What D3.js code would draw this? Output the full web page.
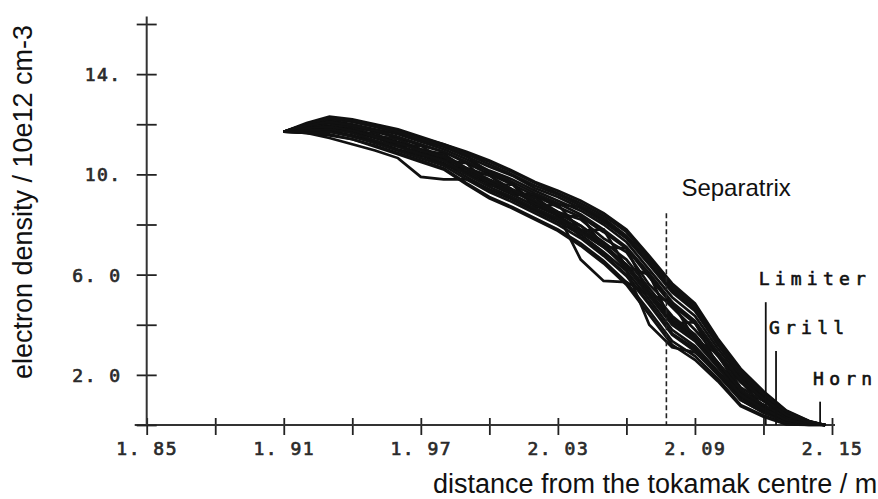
<!DOCTYPE html>
<html>
<head>
<meta charset="utf-8">
<script src="https://cdn.jsdelivr.net/npm/d3@7"></script>
<style>
  html, body { margin: 0; padding: 0; background: #fff; }
  svg { display: block; }
  .tick-label { font-family: "DejaVu Sans Mono", monospace; font-size: 18px; fill: #2a2a2a; stroke: #2a2a2a; stroke-width: 0.7px; letter-spacing: 1.5px; }
  .marker-label { font-family: "DejaVu Sans Mono", monospace; font-size: 18px; fill: #111; stroke: #111; stroke-width: 0.6px; letter-spacing: 5.2px; }
  .title { font-family: "Liberation Sans", Arial, sans-serif; fill: #111; }
</style>
</head>
<body>
<svg id="chart" width="878" height="499"></svg>
<script>
// radial positions (m) shared by every profile
const radius = [1.91, 1.92, 1.93, 1.94, 1.95, 1.96, 1.97, 1.98, 1.99, 2.00, 2.01, 2.02, 2.03,
  2.04, 2.05, 2.06, 2.07, 2.08, 2.09, 2.10, 2.11, 2.12, 2.13, 2.14, 2.147];

// electron density profiles (10e12 cm-3), one per measurement
const profiles = [
  [11.7, 12.05, 12.3, 12.2, 12.0, 11.8, 11.5, 11.2, 10.9, 10.55, 10.15, 9.7, 9.35, 8.95, 8.45, 7.8, 6.75, 5.65, 4.85, 3.45, 2.25, 1.35, 0.58, 0.16, 0],
  [11.7, 11.65, 11.55, 11.4, 11.1, 10.8, 10.5, 10.2, 9.6, 9.05, 8.65, 8.2, 7.75, 7.15, 6.45, 5.6, 4.4, 3.2, 2.6, 1.75, 0.75, 0.33, 0.02, 0, 0],
  [11.7, 11.9, 11.85, 11.9, 11.45, 11.45, 10.85, 10.85, 10.05, 10.0, 9.2, 9.15, 8.3, 8.35, 7.1, 7.05, 5.2, 4.9, 3.4, 2.85, 1.3, 1.0, 0.2, 0.1, 0],
  [11.7, 11.95, 12.15, 12.0, 11.8, 11.6, 11.3, 11.0, 10.6, 10.15, 9.8, 9.35, 8.95, 8.55, 8.0, 7.3, 6.2, 5.1, 4.35, 3.05, 1.9, 1.1, 0.45, 0.12, 0],
  [11.7, 11.75, 11.75, 11.55, 11.3, 11.0, 10.75, 10.45, 9.9, 9.4, 9.0, 8.55, 8.1, 7.6, 6.9, 6.15, 5.0, 3.8, 3.15, 2.15, 1.1, 0.6, 0.15, 0.04, 0],
  [11.7, 11.65, 11.45, 11.2, 10.95, 10.65, 9.9, 9.8, 9.8, 9.4, 9.05, 8.6, 8.2, 7.7, 7.1, 6.4, 5.3, 4.2, 3.5, 2.4, 1.35, 0.7, 0.25, 0.05, 0],
  [11.7, 11.85, 11.95, 11.8, 11.55, 11.3, 11.0, 10.7, 10.2, 9.75, 9.35, 8.9, 8.4, 6.6, 5.75, 5.7, 5.2, 4.3, 3.6, 2.5, 1.4, 0.8, 0.25, 0.05, 0],
  [11.7, 11.9, 12.05, 11.9, 11.7, 11.45, 11.15, 10.9, 10.45, 10.0, 9.6, 9.15, 8.7, 8.3, 7.7, 7.05, 5.9, 4.8, 4.05, 2.8, 1.7, 1.0, 0.38, 0.1, 0],
  [11.7, 11.8, 11.85, 11.7, 11.45, 11.15, 10.85, 10.6, 10.05, 9.6, 9.2, 8.75, 8.35, 7.8, 7.2, 6.4, 5.3, 4.1, 3.45, 2.4, 1.3, 0.7, 0.22, 0.05, 0],
  [11.7, 12.0, 12.25, 12.15, 11.95, 11.75, 11.45, 11.2, 10.85, 10.5, 10.1, 9.65, 9.25, 8.85, 8.35, 7.7, 6.65, 5.55, 4.75, 3.35, 2.2, 1.3, 0.55, 0.15, 0],
  [11.7, 11.65, 11.6, 11.4, 11.15, 10.85, 10.55, 10.25, 9.65, 9.1, 8.7, 8.25, 7.8, 7.25, 6.55, 5.7, 4.55, 3.35, 2.75, 1.85, 0.8, 0.38, 0.05, 0, 0],
  [11.7, 12.0, 12.25, 12.1, 11.9, 11.7, 11.4, 11.1, 10.75, 10.05, 9.65, 8.8, 8.4, 7.5, 6.8, 6.0, 4.85, 3.65, 3.05, 2.05, 1.0, 0.5, 0.12, 0.03, 0],
  [11.7, 11.7, 11.7, 11.55, 11.25, 10.95, 10.65, 10.4, 10.1, 9.65, 9.25, 9.2, 8.8, 8.7, 8.2, 7.5, 6.5, 5.35, 4.6, 3.25, 2.05, 1.25, 0.5, 0.14, 0],
  [11.7, 11.8, 12.05, 11.65, 11.65, 11.15, 11.15, 10.55, 10.45, 9.55, 9.6, 8.7, 8.8, 7.75, 7.8, 6.3, 6.0, 4.05, 4.1, 2.35, 1.75, 0.7, 0.4, 0.06, 0],
  [11.7, 12.0, 12.2, 12.1, 11.9, 11.65, 11.35, 11.1, 10.7, 10.3, 9.95, 9.45, 9.1, 8.65, 8.1, 7.45, 6.4, 5.3, 4.55, 3.2, 2.0, 1.2, 0.5, 0.13, 0],
  [11.7, 11.7, 11.7, 11.5, 11.25, 10.95, 10.65, 10.35, 9.8, 9.3, 8.9, 8.45, 8.0, 7.45, 6.75, 5.95, 4.8, 3.6, 2.95, 2.0, 1.0, 0.5, 0.1, 0.03, 0],
  [11.7, 11.9, 11.95, 11.9, 11.55, 11.4, 11.0, 10.8, 10.25, 9.95, 9.4, 9.05, 8.5, 8.2, 7.45, 6.9, 5.6, 4.7, 3.8, 2.75, 1.5, 0.95, 0.3, 0.08, 0],
  [11.7, 11.85, 11.9, 11.75, 11.5, 11.25, 10.95, 10.65, 10.2, 9.7, 9.35, 8.85, 8.45, 7.95, 7.3, 6.6, 5.45, 4.35, 3.6, 2.5, 1.4, 0.8, 0.27, 0.07, 0],
  [11.7, 11.85, 11.9, 11.75, 11.5, 11.25, 10.95, 10.7, 10.25, 9.8, 9.4, 8.95, 8.5, 7.95, 7.2, 6.2, 4.0, 3.1, 2.9, 2.1, 1.2, 0.6, 0.2, 0.05, 0],
  [11.7, 12.0, 12.25, 12.15, 11.95, 11.7, 11.4, 11.15, 10.8, 10.4, 10.0, 9.55, 9.2, 8.75, 8.25, 7.55, 6.55, 5.45, 4.65, 3.3, 2.1, 1.25, 0.52, 0.14, 0],
  [11.7, 11.75, 11.8, 11.65, 11.35, 11.1, 10.8, 10.55, 10.0, 9.5, 9.1, 8.65, 8.25, 7.7, 7.1, 6.3, 5.15, 4.0, 3.35, 2.3, 1.2, 0.65, 0.2, 0.05, 0],
  [11.7, 11.95, 12.1, 11.95, 11.75, 11.5, 11.2, 10.9, 10.5, 10.1, 9.7, 9.25, 8.85, 8.4, 7.8, 7.1, 6.05, 4.9, 4.15, 2.9, 1.8, 1.05, 0.4, 0.1, 0]
];

const xTicks = [1.85, 1.88, 1.91, 1.94, 1.97, 2.00, 2.03, 2.06, 2.09, 2.12, 2.15];
const xTickLabels = ["1. 85", "", "1. 91", "", "1. 97", "", "2. 03", "", "2. 09", "", "2. 15"];
const yTicks = [0, 2, 4, 6, 8, 10, 12, 14, 16];
const yTickLabels = ["", "2. 0", "", "6. 0", "", "10.", "", "14.", ""];

const separatrix = { r: 2.0775, top: 8.45, name: "Separatrix" };
const markerNames = ["Limiter", "Grill", "Horn"];
const markerRadius = [2.121, 2.1255, 2.1448];
const markerHeight = [4.9, 2.95, 0.93];

const svg = d3.select("#chart");
const x = d3.scaleLinear().domain([1.85, 2.15]).range([146.7, 832]);
const y = d3.scaleLinear().domain([0, 16]).range([425, 24]);

// x axis
const xAxis = svg.append("g")
  .attr("transform", `translate(0,${y(0)})`)
  .call(d3.axisBottom(x).tickValues(xTicks).tickSize(0).tickPadding(0)
    .tickFormat((d, i) => xTickLabels[i]));
xAxis.select(".domain").remove();
xAxis.append("line")
  .attr("x1", x(1.85) - 12).attr("x2", x(2.15) + 3)
  .attr("stroke", "#333").attr("stroke-width", 2);
xAxis.selectAll(".tick line").attr("y1", -7).attr("y2", 10)
  .attr("stroke", "#222").attr("stroke-width", 1.8);
xAxis.selectAll(".tick text").attr("class", "tick-label")
  .attr("y", 30).attr("dy", null).attr("font-size", null).attr("font-family", null);

// y axis
const yAxis = svg.append("g")
  .attr("transform", `translate(${x(1.85)},0)`)
  .call(d3.axisLeft(y).tickValues(yTicks).tickSize(0).tickPadding(0)
    .tickFormat((d, i) => yTickLabels[i]));
yAxis.select(".domain").remove();
yAxis.append("line")
  .attr("y1", y(16.3)).attr("y2", y(0))
  .attr("stroke", "#333").attr("stroke-width", 2);
yAxis.selectAll(".tick line").attr("x1", -10).attr("x2", 10)
  .attr("stroke", "#222").attr("stroke-width", 1.8);
yAxis.selectAll(".tick text").attr("class", "tick-label")
  .attr("x", -25).attr("dy", "0.36em").attr("font-size", null).attr("font-family", null);
svg.selectAll(".tick text").attr("fill", null);

// profiles
const line = d3.line()
  .x((d, i) => x(radius[i]))
  .y((d) => y(d));

svg.append("g")
  .selectAll("path")
  .data(profiles)
  .join("path")
  .attr("d", line)
  .attr("fill", "none")
  .attr("stroke", "#111")
  .attr("stroke-width", 2.7)
  .attr("stroke-linejoin", "miter");

// separatrix
svg.append("line")
  .attr("x1", x(separatrix.r)).attr("x2", x(separatrix.r))
  .attr("y1", y(separatrix.top)).attr("y2", y(0))
  .attr("stroke", "#222").attr("stroke-width", 1.6)
  .attr("stroke-dasharray", "5,3");
svg.append("text")
  .attr("class", "title")
  .attr("x", x(separatrix.r) + 15)
  .attr("y", y(separatrix.top) - 17)
  .attr("font-size", 24)
  .text(separatrix.name);

// limiter, grill, horn
const markers = svg.append("g")
  .selectAll("g")
  .data(markerNames)
  .join("g");
markers.append("line")
  .attr("x1", (d, i) => x(markerRadius[i])).attr("x2", (d, i) => x(markerRadius[i]))
  .attr("y1", (d, i) => y(markerHeight[i])).attr("y2", y(0))
  .attr("stroke", "#111").attr("stroke-width", 1.8);
markers.append("text")
  .attr("class", "marker-label")
  .attr("x", (d, i) => x(markerRadius[i]) - 7)
  .attr("y", (d, i) => y(markerHeight[i]) - 17)
  .text((d) => d);

// axis titles
svg.append("text")
  .attr("class", "title")
  .attr("x", 433).attr("y", 493)
  .attr("font-size", 27)
  .text("distance from the tokamak centre / m");
svg.append("text")
  .attr("class", "title")
  .attr("transform", "translate(32,202) rotate(-90)")
  .attr("text-anchor", "middle")
  .attr("font-size", 27)
  .text("electron density / 10e12 cm-3");
</script>
</body>
</html>
